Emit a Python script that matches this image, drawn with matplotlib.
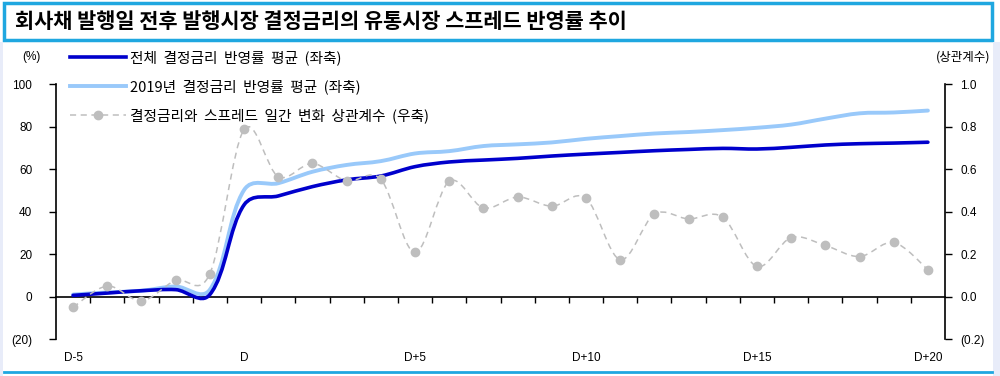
import matplotlib
matplotlib.use('Agg')
import matplotlib.pyplot as plt
import numpy as np
from matplotlib.path import Path
from matplotlib.patches import PathPatch, Rectangle
from matplotlib.lines import Line2D

plt.rcParams['font.family'] = ['Noto Sans CJK KR', 'DejaVu Sans']

# 데이터
days = ['D-5', 'D-4', 'D-3', 'D-2', 'D-1', 'D',
        'D+1', 'D+2', 'D+3', 'D+4', 'D+5', 'D+6', 'D+7', 'D+8', 'D+9', 'D+10',
        'D+11', 'D+12', 'D+13', 'D+14', 'D+15', 'D+16', 'D+17', 'D+18', 'D+19', 'D+20']
tick_days = ['D-5', 'D', 'D+5', 'D+10', 'D+15', 'D+20']
total = [0.6, 1.7, 2.8, 3.3, 1.0, 43.2, 47.4, 51.8, 55.0, 56.8, 61.2, 63.4, 64.3,
         65.1, 66.2, 67.1, 67.9, 68.7, 69.3, 69.8, 69.5, 70.3, 71.4, 72.0, 72.3, 72.7]
y2019 = [1.0, 2.0, 2.8, 4.8, 3.3, 50.2, 53.4, 58.8, 62.0, 63.8, 67.4, 68.5, 70.9,
         71.7, 72.6, 74.3, 75.6, 76.8, 77.5, 78.4, 79.5, 81.0, 83.8, 86.3, 86.7, 87.6]
corr = [-0.05, 0.05, -0.02, 0.077, 0.108, 0.787, 0.565, 0.627, 0.545, 0.552, 0.208,
        0.543, 0.418, 0.469, 0.426, 0.463, 0.174, 0.388, 0.366, 0.374, 0.142, 0.278,
        0.241, 0.189, 0.255, 0.127]

lab_total = '전체  결정금리  반영률  평균  (좌축)'
lab_2019 = '2019년  결정금리  반영률  평균  (좌축)'
lab_corr = '결정금리와  스프레드  일간  변화  상관계수  (우축)'

c_dark = '#0000CC'
c_light = '#99C9FA'
c_gray = '#BEBEBE'
c_frame = '#1FA7E0'


def smooth_path(xs, ys, sx, sy, mix=0.0):
    # 부드러운 선 (베지어). mix: 0 = 균일 Catmull-Rom, 1 = 구간 길이 기준
    p = np.column_stack([np.asarray(xs) * sx, np.asarray(ys) * sy]).astype(float)
    ext = np.vstack([p[0], p, p[-1]])
    verts = [p[0]]
    codes = [Path.MOVETO]
    for i in range(len(p) - 1):
        p0, p1, p2, p3 = ext[i], ext[i + 1], ext[i + 2], ext[i + 3]
        d = np.linalg.norm(p2 - p1)
        t1 = p2 - p0
        t2 = p3 - p1
        h1 = (1 - mix) * t1 / 6 + mix * t1 / (np.linalg.norm(t1) or 1) * d / 3
        h2 = (1 - mix) * t2 / 6 + mix * t2 / (np.linalg.norm(t2) or 1) * d / 3
        verts += [p1 + h1, p2 - h2, p2]
        codes += [Path.CURVE4] * 3
    verts = np.array(verts) / [sx, sy]
    return Path(verts, codes)


x = np.arange(len(days))

fig = plt.figure(figsize=(10, 3.76), dpi=100)
ax = fig.add_axes([0.056, 0.098, 0.889, 0.678])
ax2 = ax.twinx()

ax.add_patch(PathPatch(smooth_path(x, y2019, 34.3, 2.13, 0.6), fill=False,
                       color=c_light, lw=2.8, capstyle='round', zorder=3))
ax.add_patch(PathPatch(smooth_path(x, total, 34.3, 2.13, 0.6), fill=False,
                       color=c_dark, lw=2.6, capstyle='round', zorder=4))
ax2.add_patch(PathPatch(smooth_path(x, corr, 34.3, 213, 0.0), fill=False,
                        color=c_gray, lw=1.1, linestyle=(0, (4, 3)), zorder=2))
ax2.plot(x, corr, 'o', color=c_gray, markersize=6, zorder=3)

ax.set_xlim(-0.5, len(days) - 0.5)
ax.set_ylim(-20, 100)
ax2.set_ylim(-0.2, 1.0)

yt = np.arange(-20, 101, 20)
ax.set_yticks(yt)
ax.set_yticklabels(['(%d)' % -v if v < 0 else '%d' % v for v in yt])
yt2 = np.arange(-0.2, 1.01, 0.2)
ax2.set_yticks(yt2)
ax2.set_yticklabels(['(%.1f)' % -v if v < -1e-9 else '%.1f' % abs(v) for v in yt2])

for a in (ax, ax2):
    a.spines['top'].set_visible(False)
    a.patch.set_visible(False)
ax2.spines['left'].set_visible(False)
ax2.spines['bottom'].set_visible(False)
ax.spines['right'].set_visible(False)
ax.spines['bottom'].set_position(('data', 0))
for s in ('left', 'bottom'):
    ax.spines[s].set_linewidth(1.2)
ax2.spines['right'].set_linewidth(1.2)

ax.set_xticks(x[:-1] + 0.5)
ax.set_xticklabels([])
ax.tick_params(axis='x', direction='out', length=4, width=1)
ax.tick_params(axis='y', direction='out', length=5, width=1, labelsize=8.5,
               labelfontfamily='Liberation Sans', pad=12)
ax2.tick_params(axis='y', direction='out', length=5, width=1, labelsize=8.5,
                labelfontfamily='Liberation Sans', pad=6)

sec = ax.secondary_xaxis('bottom')
sec.set_xticks([days.index(d) for d in tick_days])
sec.set_xticklabels(tick_days)
sec.spines['bottom'].set_visible(False)
sec.tick_params(length=0, pad=9, labelsize=8.5, labelfontfamily='Liberation Sans')

fig.text(0.031, 1 - 57 / 376, '(%)', ha='center', va='center', fontsize=8.5,
         family=['Liberation Sans', 'DejaVu Sans'])
fig.text(0.990, 1 - 57 / 376, '(상관계수)', ha='right', va='center', fontsize=9)

handles = [Line2D([], [], color=c_dark, lw=2.6),
           Line2D([], [], color=c_light, lw=2.8),
           Line2D([], [], color=c_gray, lw=1.1, linestyle=(0, (4, 3)),
                  marker='o', markersize=6)]
fig.legend(handles, [lab_total, lab_2019, lab_corr], loc='upper left',
           bbox_to_anchor=(0.070, 1 - 50 / 376), frameon=False, fontsize=10.6,
           handlelength=3.8, handletextpad=0.3, labelspacing=0.97,
           borderaxespad=0, borderpad=0)

# 제목 상자와 테두리
fig.patches.append(Rectangle((0.004, 1 - 40 / 376), 0.988, 37 / 376,
                             transform=fig.transFigure, fill=False,
                             edgecolor=c_frame, lw=2.5))
fig.patches.append(Rectangle((0.993, 0), 0.007, 1 - 42 / 376,
                             transform=fig.transFigure, color='#E8ECF9', lw=0))
fig.patches.append(Rectangle((0.0, 0), 0.003, 1 - 42 / 376,
                             transform=fig.transFigure, color='#E8ECF9', lw=0))
fig.add_artist(Line2D([0.004, 0.992], [4 / 376, 4 / 376], color=c_frame, lw=2,
                      transform=fig.transFigure))
fig.text(0.015, 1 - 21 / 376, '회사채 발행일 전후 발행시장 결정금리의 유통시장 스프레드 반영률 추이',
         ha='left', va='center', fontsize=15, fontweight='bold')

fig.savefig('out.png', dpi=100)
